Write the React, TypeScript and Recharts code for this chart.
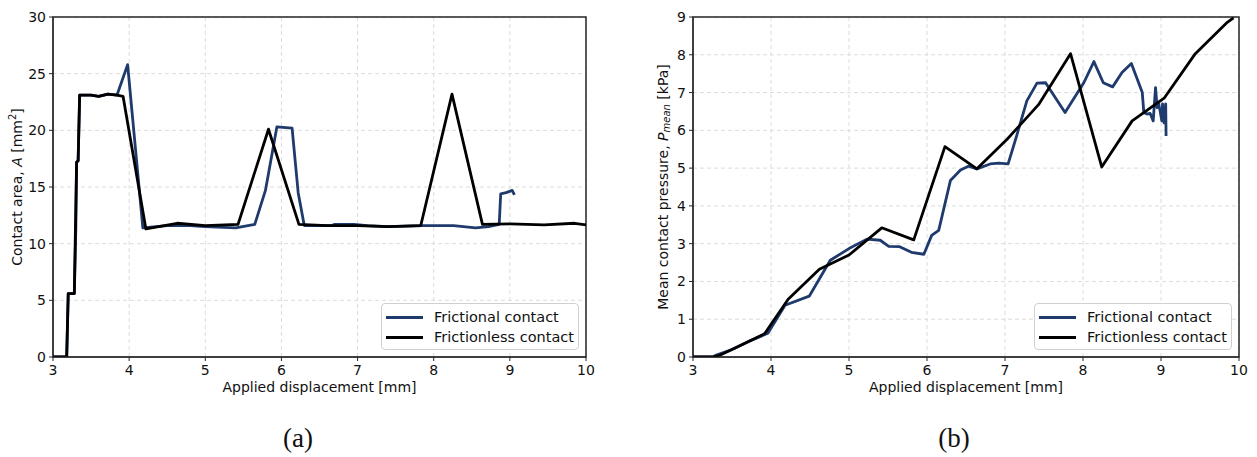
import React from "react";
import {
  LineChart,
  Line,
  XAxis,
  YAxis,
  CartesianGrid,
  ReferenceArea,
} from "recharts";

// displacement [mm], value
const areaFrictional: [number, number][] = [
  [3.0, 0], [3.18, 0], [3.2, 5.6], [3.28, 5.6], [3.3, 11.4], [3.31, 17.2],
  [3.33, 17.3], [3.35, 23.1], [3.5, 23.1], [3.6, 23.0], [3.72, 23.2],
  [3.84, 23.1], [3.98, 25.8], [4.18, 11.4], [4.5, 11.6], [4.8, 11.6],
  [5.0, 11.5], [5.4, 11.4], [5.65, 11.7], [5.79, 14.7], [5.94, 20.3],
  [6.14, 20.2], [6.22, 14.5], [6.3, 11.6], [6.66, 11.6], [6.7, 11.7],
  [6.95, 11.7], [7.13, 11.6], [7.4, 11.5], [7.85, 11.6], [8.26, 11.6],
  [8.55, 11.4], [8.72, 11.5], [8.86, 11.7], [8.88, 14.4], [8.95, 14.5],
  [9.03, 14.7], [9.06, 14.3],
];

const areaFrictionless: [number, number][] = [
  [3.0, 0], [3.18, 0], [3.2, 5.6], [3.28, 5.6], [3.31, 17.2], [3.33, 17.3],
  [3.35, 23.1], [3.5, 23.1], [3.6, 23.0], [3.72, 23.2], [3.84, 23.1],
  [3.92, 23.0], [4.22, 11.3], [4.63, 11.8], [5.0, 11.6], [5.43, 11.7],
  [5.83, 20.1], [6.23, 11.7], [6.6, 11.6], [7.0, 11.6], [7.4, 11.5],
  [7.83, 11.6], [8.24, 23.2], [8.64, 11.7], [9.0, 11.75], [9.45, 11.65],
  [9.85, 11.8], [10.0, 11.65],
];

const pressureFrictional: [number, number][] = [
  [3.0, 0], [3.25, 0], [3.3, 0.05], [3.5, 0.2], [3.7, 0.4], [3.96, 0.63],
  [4.18, 1.37], [4.49, 1.61], [4.76, 2.56], [5.0, 2.87], [5.23, 3.12],
  [5.4, 3.09], [5.51, 2.93], [5.65, 2.92], [5.8, 2.77], [5.96, 2.72],
  [6.06, 3.22], [6.15, 3.35], [6.3, 4.67], [6.43, 4.95], [6.53, 5.05],
  [6.64, 4.98], [6.81, 5.11], [6.92, 5.13], [7.04, 5.11], [7.15, 5.86],
  [7.28, 6.78], [7.41, 7.25], [7.52, 7.26], [7.77, 6.47], [8.01, 7.26],
  [8.14, 7.82], [8.26, 7.26], [8.38, 7.15], [8.5, 7.53], [8.62, 7.77],
  [8.76, 7.0], [8.78, 6.47], [8.82, 6.43], [8.86, 6.45], [8.9, 6.25],
  [8.93, 7.13], [8.95, 6.6], [8.97, 6.7], [8.99, 6.5], [9.01, 6.25],
  [9.02, 6.7], [9.04, 6.2], [9.06, 6.7], [9.065, 5.85],
];

const pressureFrictionless: [number, number][] = [
  [3.0, 0], [3.25, 0], [3.35, 0.05], [3.5, 0.2], [3.7, 0.4], [3.92, 0.62],
  [4.22, 1.53], [4.62, 2.32], [5.0, 2.7], [5.42, 3.42], [5.83, 3.1],
  [6.23, 5.57], [6.64, 4.98], [7.03, 5.77], [7.43, 6.68], [7.84, 8.03],
  [8.24, 5.03], [8.63, 6.25], [9.04, 6.85], [9.44, 8.03], [9.85, 8.86],
  [9.93, 8.98],
];

const xTicks = [3, 4, 5, 6, 7, 8, 9, 10];
const areaTicks = [0, 5, 10, 15, 20, 25, 30];
const pressureTicks = [0, 1, 2, 3, 4, 5, 6, 7, 8, 9];

const seriesNames = ["Frictional contact", "Frictionless contact"];

const BLUE = "#1f3a6d";
const BLACK = "#000000";
const FRAME = "#262626";
const GRID = "#dcdcdc";
const FONT = "'DejaVu Sans', sans-serif";
const LINE_W = 2.8;

const CHART_H = 400;
const PLOT_TOP = 17;
const X_AXIS_H = 43;
const PLOT_H = CHART_H - PLOT_TOP - X_AXIS_H;

const toRows = (pts: [number, number][]) => pts.map(([d, v]) => ({ d, v }));

const tickStyle = { fontSize: 14, fill: "#111" };

function AreaLabel() {
  const cx = 17;
  const cy = PLOT_TOP + PLOT_H / 2;
  return (
    <text
      x={cx}
      y={cy}
      transform={`rotate(-90 ${cx} ${cy})`}
      textAnchor="middle"
      dominantBaseline="central"
      fontSize={14}
      fill="#111"
    >
      Contact area, <tspan fontStyle="italic">A</tspan> [mm
      <tspan dy={-5} fontSize={10}>2</tspan>
      <tspan dy={5}>]</tspan>
    </text>
  );
}

function PressureLabel() {
  const cx = 23;
  const cy = PLOT_TOP + PLOT_H / 2;
  return (
    <text
      x={cx}
      y={cy}
      transform={`rotate(-90 ${cx} ${cy})`}
      textAnchor="middle"
      dominantBaseline="central"
      fontSize={14}
      fill="#111"
    >
      Mean contact pressure, <tspan fontStyle="italic">P</tspan>
      <tspan fontStyle="italic" fontSize={10} dy={3}>mean</tspan>
      <tspan dy={-3}>{" [kPa]"}</tspan>
    </text>
  );
}

function LegendBox({ left }: { left: number }) {
  const colors = [BLUE, BLACK];
  return (
    <div
      style={{
        position: "absolute",
        left,
        top: 303,
        width: 198,
        height: 47,
        border: "1px solid #d0d0d0",
        borderRadius: 4,
        background: "rgba(255,255,255,0.85)",
        boxSizing: "border-box",
      }}
    >
      {seriesNames.map((name, i) => (
        <div
          key={name}
          style={{
            position: "absolute",
            left: 4,
            top: 3 + i * 20,
            height: 20,
            display: "flex",
            alignItems: "center",
            fontSize: 14.5,
            color: "#111",
            whiteSpace: "nowrap",
          }}
        >
          <div
            style={{ width: 37, height: 3, background: colors[i], marginRight: 11 }}
          />
          {name}
        </div>
      ))}
    </div>
  );
}

interface PanelProps {
  left: number;
  width: number;
  marginRight: number;
  frictional: [number, number][];
  frictionless: [number, number][];
  yMax: number;
  yTicks: number[];
  yLabel: React.ReactElement;
}

function Panel({
  left,
  width,
  marginRight,
  frictional,
  frictionless,
  yMax,
  yTicks,
  yLabel,
}: PanelProps) {
  return (
    <div style={{ position: "absolute", left, top: 0 }}>
      <LineChart
        width={width}
        height={CHART_H}
        margin={{ top: PLOT_TOP, right: marginRight, bottom: 0, left: 0 }}
      >
        <CartesianGrid stroke={GRID} strokeDasharray="4 3" />
        <XAxis
          type="number"
          dataKey="d"
          domain={[3, 10]}
          ticks={xTicks}
          interval={0}
          allowDataOverflow
          height={X_AXIS_H}
          tick={tickStyle}
          tickSize={4}
          tickMargin={4}
          stroke={FRAME}
          label={{
            value: "Applied displacement [mm]",
            position: "insideBottom",
            offset: 8,
            fontSize: 14,
            fill: "#111",
          }}
        />
        <YAxis
          type="number"
          dataKey="v"
          domain={[0, yMax]}
          ticks={yTicks}
          interval={0}
          allowDataOverflow
          width={53}
          tick={tickStyle}
          tickSize={4}
          tickMargin={3}
          stroke={FRAME}
          label={yLabel}
        />
        <ReferenceArea
          x1={3}
          x2={10}
          y1={0}
          y2={yMax}
          fill="none"
          stroke={FRAME}
          strokeWidth={1.5}
        />
        <Line
          data={toRows(frictional)}
          dataKey="v"
          name={seriesNames[0]}
          stroke={BLUE}
          strokeWidth={LINE_W}
          strokeLinejoin="round"
          dot={false}
          isAnimationActive={false}
        />
        <Line
          data={toRows(frictionless)}
          dataKey="v"
          name={seriesNames[1]}
          stroke={BLACK}
          strokeWidth={LINE_W}
          strokeLinejoin="round"
          dot={false}
          isAnimationActive={false}
        />
      </LineChart>
    </div>
  );
}

const captionStyle: React.CSSProperties = {
  position: "absolute",
  top: 438,
  transform: "translate(-50%, -50%)",
  fontFamily: "'Liberation Serif', serif",
  fontSize: 27,
  color: "#111",
};

export default function App() {
  return (
    <div
      style={{
        position: "absolute",
        left: 0,
        top: 0,
        width: 1257,
        height: 457,
        background: "#fff",
        fontFamily: FONT,
      }}
    >
      <Panel
        left={0}
        width={600}
        marginRight={14}
        frictional={areaFrictional}
        frictionless={areaFrictionless}
        yMax={30}
        yTicks={areaTicks}
        yLabel={<AreaLabel />}
      />
      <LegendBox left={381} />
      <Panel
        left={640}
        width={617}
        marginRight={18}
        frictional={pressureFrictional}
        frictionless={pressureFrictionless}
        yMax={9}
        yTicks={pressureTicks}
        yLabel={<PressureLabel />}
      />
      <LegendBox left={1034} />
      <div style={{ ...captionStyle, left: 298 }}>(a)</div>
      <div style={{ ...captionStyle, left: 954 }}>(b)</div>
    </div>
  );
}
